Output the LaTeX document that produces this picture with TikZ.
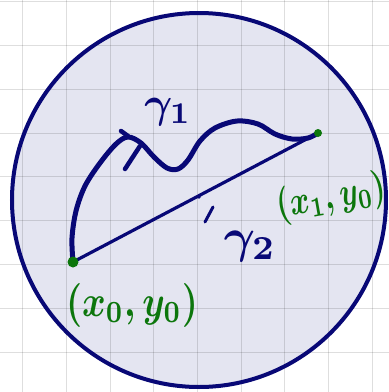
\documentclass[tikz,border=0pt]{standalone}
\usepackage{graphicx}
\usetikzlibrary{calc}
\definecolor{navy}{RGB}{8,8,118}
\definecolor{pen}{RGB}{12,118,12}
\definecolor{lav}{RGB}{228,229,241}
\tikzset{
  gridline/.style={draw=black,opacity=0.13,line width=1pt},
  navystroke/.style={draw=navy,line cap=round,line join=round},
  greenlabel/.style={text=pen,inner sep=0pt,font=\boldmath},
  navylabel/.style={text=navy,inner sep=0pt,font=\boldmath},
  ptdot/.style={circle,fill=pen,inner sep=0pt},
}
\begin{document}
\begin{tikzpicture}[x=1pt,y=-1pt]
\useasboundingbox (0,0) rectangle (389,392);
\fill[white] (0,0) rectangle (389,392);
\fill[lav] (199,200) circle [radius=187pt];
\foreach \gx in {22.7,66.4,110.1,153.8,197.5,241.2,284.9,328.6,372.3}
  \draw[gridline] (\gx,0) -- (\gx,392);
\foreach \gy in {1.7,45.5,89.3,133.1,176.9,220.7,264.5,308.3,352.1}
  \draw[gridline] (0,\gy) -- (389,\gy);
\draw[navy,line width=4pt] (199,200) circle [radius=187pt];
% points
\coordinate (p0) at (73,262);
\coordinate (p1) at (318,133);
% gamma 2 straight line
\draw[navystroke,line width=3.2pt] (p0) -- (p1);
\coordinate (t2a) at (199,197);
\coordinate (t2b) at (213,207);
\coordinate (t2c) at (205,222);
\fill[navy] (t2a) circle [radius=1.8pt];
\draw[navystroke,line width=3pt] (t2b) -- (t2c);
% gamma 1 curve
\draw[navystroke,line width=5pt] plot[smooth,tension=0.55] coordinates {
 (73,262) (72,238) (76,211) (85,186) (100,163) (116,144) (128,137) (141,143)
 (154,157) (167,168) (178,169) (188,160) (200,141) (215,128) (237,121)
 (258,124) (275,134) (292,139) (308,138) (318,133)};
\coordinate (h1) at (121,131);
\coordinate (h2) at (128,136);
\coordinate (k1) at (140,146);
\coordinate (k2) at (125,169);
\draw[navystroke,line width=4.5pt] (h1) -- (h2);
\draw[navystroke,line width=4.5pt] (k1) -- (k2);
\node[ptdot,minimum size=11pt] (d0) at (p0) {};
\node[ptdot,minimum size=8pt] (d1) at (p1) {};
% labels
\node[navylabel] (g1) at (168,112) {\scalebox{4.3}{$\gamma_1$}};
\node[navylabel] (g2) at (250,246) {\scalebox{4.8}{$\gamma_2$}};
\node[greenlabel] (l0) at (132,305) {\scalebox{3.6}[4.4]{$(x_0,y_0)$}};
\node[greenlabel,rotate=10] (l1) at (331,198) {\scalebox{3.0}[4.0]{$(x_1,y_0)$}};
\end{tikzpicture}
\end{document}
